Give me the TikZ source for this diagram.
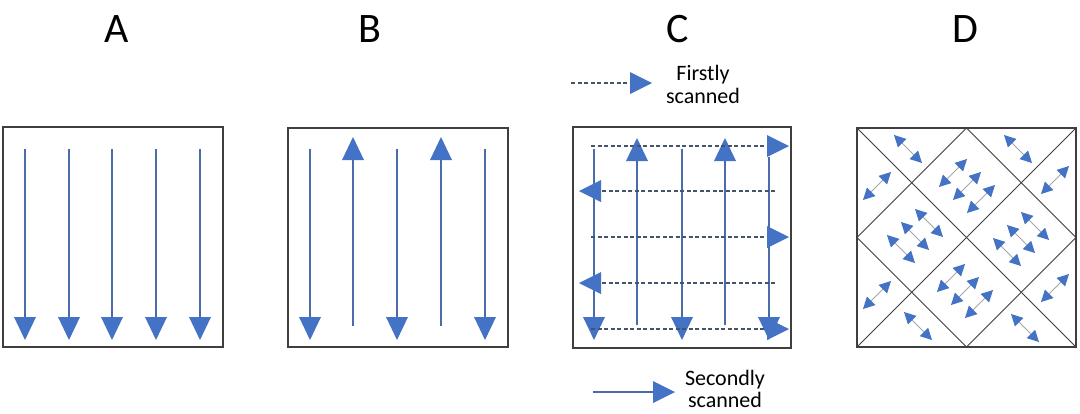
\documentclass[tikz,border=0pt]{standalone}
\usepackage{fontspec}
\setmainfont{Carlito}
\usetikzlibrary{arrows.meta}
\definecolor{headblue}{HTML}{4472C4}
\definecolor{lineblue}{HTML}{4A6DAA}
\definecolor{dashgray}{HTML}{44546A}
\definecolor{boxgray}{HTML}{3F3F3F}
\definecolor{thingray}{HTML}{A6A6A6}
\newcommand{\darDR}[2]{\draw[darrow] (#1-14,#2-14) -- (#1+14,#2+14);}
\newcommand{\darUR}[2]{\draw[darrow] (#1-14,#2+14) -- (#1+14,#2-14);}
\begin{document}
\begin{tikzpicture}[x=1pt,y=-1pt,
  panel/.style={draw=boxgray,line width=1.2pt},
  scanarrow/.style={draw=lineblue,line width=2.2pt,-{Triangle[length=23pt,width=22pt,color=headblue,line width=0pt]}},
  dscan/.style={draw=dashgray,line width=2pt,dash pattern=on 4pt off 2.5pt,-{Triangle[length=22pt,width=22pt,color=headblue,line width=0pt]}},
  darrow/.style={draw=thingray,line width=1pt,{Triangle[length=11.5pt,width=12pt,color=headblue,line width=0pt]}-{Triangle[length=11.5pt,width=12pt,color=headblue,line width=0pt]}},
  grid/.style={draw=boxgray,line width=0.9pt},
  title/.style={font=\fontsize{42}{42}\selectfont, anchor=base, inner sep=0pt},
  legend/.style={font=\fontsize{22}{23}\selectfont, anchor=base, inner sep=0pt}
]
\useasboundingbox (0,0) rectangle (1080,413);
\fill[white] (0,0) rectangle (1080,413);

% titles
\node[title] (tA) at (117,42) {A};
\node[title] (tB) at (370,42) {B};
\node[title] (tC) at (678,42) {C};
\node[title] (tD) at (965,42) {D};

% Panel A
\draw[panel] (3,127) rectangle (223,347);
\foreach \x in {25,69,112,156,200} \draw[scanarrow] (\x,149) -- (\x,340);

% Panel B
\draw[panel] (288,128) rectangle (508,347);
\foreach \x in {310,397,485} \draw[scanarrow] (\x,149) -- (\x,340);
\foreach \x in {353,441} \draw[scanarrow] (\x,326) -- (\x,137);

% Panel C
\draw[panel] (573,127) rectangle (791,348);
\foreach \x in {594,682} \draw[scanarrow] (\x,149) -- (\x,340);
\draw[scanarrow] (769,157) -- (769,340);
\foreach \x in {637,725} \draw[scanarrow] (\x,325) -- (\x,138);
\foreach \y in {146,237,329} \draw[dscan] (591,\y) -- (789,\y);
\foreach \y in {191,283} \draw[dscan] (775,\y) -- (579,\y);

% legend C
\coordinate (f1) at (571,83);
\coordinate (f2) at (652,83);
\draw[dscan] (f1) -- (f2);
\node[legend] (fl1) at (703,80) {Firstly};
\node[legend] (fl2) at (703,103) {scanned};
\coordinate (s1) at (593,392);
\coordinate (s2) at (675,392);
\draw[scanarrow,-{Triangle[length=22pt,width=22pt,color=headblue,line width=0pt]}] (s1) -- (s2);
\node[legend] (sl1) at (725,385) {Secondly};
\node[legend] (sl2) at (725,407) {scanned};

% Panel D
\draw[panel] (857,128) rectangle (1076,347);
\draw[grid] (857,128) -- (1076,347);
\draw[grid] (1076,128) -- (857,347);
\draw[grid] (966.5,128) -- (1076,237.5) -- (966.5,347) -- (857,237.5) -- cycle;

% triangles
\darDR{908}{149}
\darUR{877}{186}
\darDR{1018}{149}
\darUR{1055}{180}
\darUR{877}{295}
\darDR{918}{326}
\darUR{1055}{288}
\darDR{1025}{328}

% diamonds
\darUR{953}{173}\darUR{967}{186}\darUR{981}{199}
\darDR{929}{223}\darDR{915}{236}\darDR{901}{249}
\darDR{1035}{226}\darDR{1021}{239}\darDR{1007}{252}
\darUR{951}{278}\darUR{965}{291}\darUR{979}{304}
\end{tikzpicture}
\end{document}
